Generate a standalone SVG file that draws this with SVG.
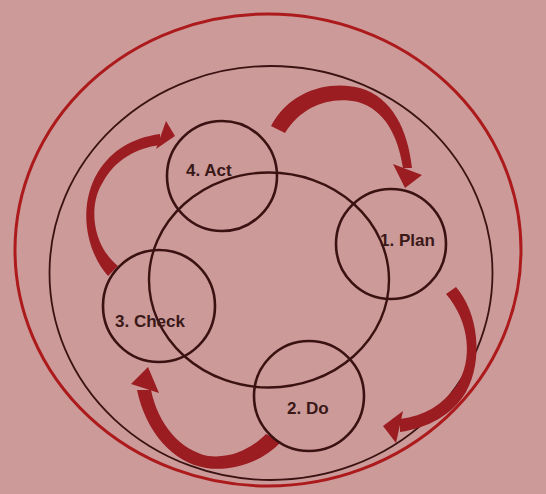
<svg xmlns="http://www.w3.org/2000/svg" width="546" height="494" viewBox="0 0 546 494">
  <style>
    .ring { fill: none; stroke: #3b1212; }
    .node { fill: none; stroke: #3b1212; stroke-width: 2.6; }
    .lbl { font-family: "Liberation Sans", Arial, sans-serif; font-weight: bold; font-size: 17px; fill: #3a1818; }
    .arrow { fill: #9b1d21; }
  </style>
  <rect x="0" y="0" width="546" height="494" fill="#cb9a99"/>
  <g id="rings">
    <ellipse cx="268" cy="250" rx="253" ry="236" fill="none" stroke="#ad1a1c" stroke-width="3"/>
    <ellipse class="ring" cx="271" cy="273" rx="221.5" ry="207" stroke-width="1.8"/>
    <ellipse class="ring" cx="269" cy="280" rx="120" ry="107.5" stroke-width="2.4"/>
  </g>
  <g id="connectors">
    <g id="act-plan">
      <path class="arrow" d="M 271 126 C 290 90, 330 80, 360 88 C 392 97, 408 130, 412 168 L 403 168 C 398 136, 385 110, 358 102 C 330 96, 302 106, 285 133 Z"/>
      <path class="arrow" d="M 393 164 L 422 175 L 405 188 Z"/>
    </g>
    <g id="plan-do">
      <path class="arrow" d="M 456 287 C 478 312, 484 360, 466 392 C 452 415, 428 428, 400 432 L 400 419 C 424 416, 443 405, 457 385 C 473 360, 470 322, 446 294 Z"/>
      <path class="arrow" d="M 403 411 L 396 443 L 383 426 Z"/>
    </g>
    <g id="do-check">
      <path class="arrow" d="M 281 442 C 262 462, 232 472, 206 468 C 172 462, 146 432, 137 390 L 151 390 C 158 424, 180 450, 208 456 C 232 459, 252 448, 266 434 Z"/>
      <path class="arrow" d="M 131 384 L 148 367 L 159 393 Z"/>
    </g>
    <g id="check-act">
      <path class="arrow" d="M 108 276 C 85 250, 78 205, 98 172 C 112 150, 132 138, 160 134 L 160 145 C 136 148, 115 160, 103 182 C 88 205, 92 245, 118 266 Z"/>
      <path class="arrow" d="M 166 121 L 175 136 L 156 149 Z"/>
    </g>
  </g>
  <g id="node-act">
    <circle class="node" cx="222" cy="176" r="55"/>
    <text class="lbl" x="186" y="176">4. Act</text>
  </g>
  <g id="node-plan">
    <circle class="node" cx="391" cy="244" r="55"/>
    <text class="lbl" x="380" y="246">1. Plan</text>
  </g>
  <g id="node-check">
    <circle class="node" cx="159" cy="306" r="56"/>
    <text class="lbl" x="115" y="327">3. Check</text>
  </g>
  <g id="node-do">
    <circle class="node" cx="309" cy="396" r="55"/>
    <text class="lbl" x="287" y="414">2. Do</text>
  </g>
</svg>
